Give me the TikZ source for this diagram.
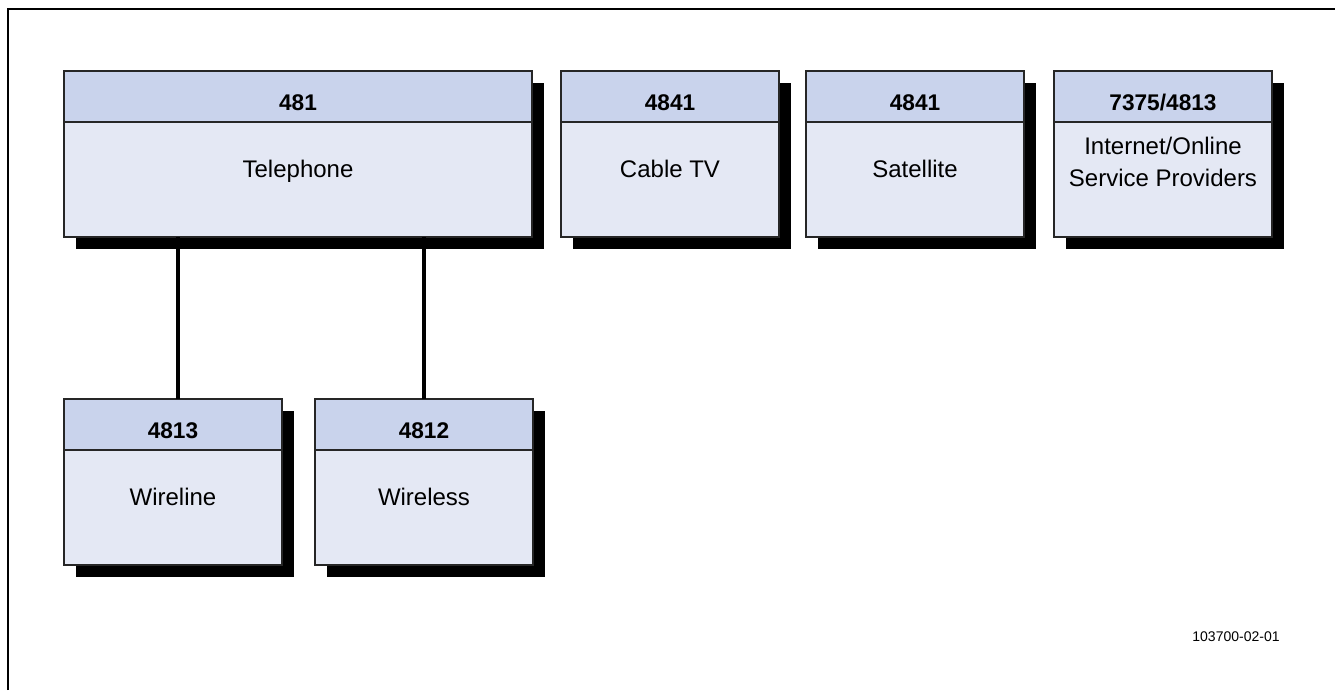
\documentclass[tikz,border=0pt]{standalone}
\usepackage{fontspec}
\setmainfont{Liberation Sans}
\usetikzlibrary{positioning}
\usetikzlibrary{shadows}
\definecolor{headblue}{RGB}{201,211,236}
\definecolor{bodyblue}{RGB}{228,232,244}

\tikzset{
	boxshadow/.style={drop shadow={shadow xshift=9pt, shadow yshift=-9pt, fill=black, opacity=1}},
	codebox/.style={draw=black!85, line width=1.2pt, fill=headblue, boxshadow, anchor=north west,
		minimum height=38.25pt, inner sep=0pt, outer sep=0pt, font=\fontsize{17}{20}\selectfont\bfseries,
		text height=20.6pt, text depth=0pt},
	namebox/.style={draw=black!85, line width=1.2pt, fill=bodyblue, boxshadow,
		minimum height=86.25pt, inner sep=0pt, outer sep=0pt, align=center,
		font=\fontsize{18}{24}\selectfont, text depth=16.6pt},
	link/.style={line width=3pt}
}

\begin{document}
\begin{tikzpicture}[x=0.75pt, y=-0.75pt, node distance=0pt]
		\useasboundingbox (0, 0) rectangle (1335, 690);
		\draw[line width=1.5pt] (8, 690) -- (8, 9) -- (1335, 9);
		% top row
		\node[codebox, minimum width=351pt] (telhead) at (64, 71) {481};
		\node[namebox, minimum width=351pt, below=of telhead] (tel) {Telephone};
		\node[codebox, minimum width=163.5pt] (cablehead) at (561, 71) {4841};
		\node[namebox, minimum width=163.5pt, below=of cablehead] (cable) {Cable TV};
		\node[codebox, minimum width=163.5pt] (sathead) at (806, 71) {4841};
		\node[namebox, minimum width=163.5pt, below=of sathead] (sat) {Satellite};
		\node[codebox, minimum width=163.5pt] (nethead) at (1054, 71) {7375/4813};
		\node[namebox, minimum width=163.5pt, below=of nethead, text depth=27pt] (net) {Internet/Online\\Service Providers};
		% bottom row
		\node[codebox, minimum width=163.5pt] (wlinehead) at (64, 399) {4813};
		\node[namebox, minimum width=163.5pt, below=of wlinehead] (wline) {Wireline};
		\node[codebox, minimum width=163.5pt] (wlesshead) at (315, 399) {4812};
		\node[namebox, minimum width=163.5pt, below=of wlesshead] (wless) {Wireless};
		% links
		\coordinate (wlinetop) at ([xshift=3.75pt]wlinehead.north);
		\draw[link] (wlinetop) -- (wlinetop |- tel.south);
		\draw[link] (wlesshead.north) -- (wlesshead.north |- tel.south);
		\node[font=\fontsize{10.5}{12}\selectfont] (figno) at (1236, 637) {103700-02-01};
	\end{tikzpicture}
\end{document}
